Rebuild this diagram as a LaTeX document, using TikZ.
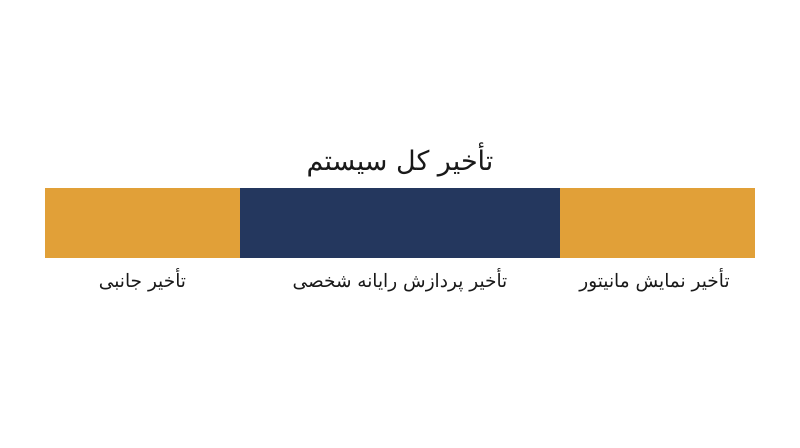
\documentclass[tikz,border=0pt]{standalone}
\usepackage{fontspec}
\usepackage{xcolor}
\usepackage{tikz}
\usetikzlibrary{calc}
\usetikzlibrary{backgrounds}
\TeXXeTstate=1
\newfontfamily\arabicfont[Script=Arabic]{DejaVu Sans}
\definecolor{barorange}{RGB}{225,160,56}
\definecolor{barnavy}{RGB}{36,55,94}
\definecolor{labelgray}{RGB}{25,25,25}

\begin{document}
\begin{tikzpicture}[x=1pt,y=1pt]

		\useasboundingbox (0,0) rectangle (800,-447);
		\tikzstyle{segment} = [rectangle, inner sep=0pt, minimum height=70pt]
		\tikzstyle{seglabel} = [inner sep=0pt, text=labelgray, font=\arabicfont\fontsize{18.5}{21}\selectfont]
		\node [segment, fill=barorange, minimum width=195pt](lat) at (142.5,-223) {};
		\node [segment, fill=barnavy, minimum width=320pt](pc) at (400,-223) {};
		\node [segment, fill=barorange, minimum width=195pt](mon) at (657.5,-223) {};
		\node [seglabel, font=\arabicfont\fontsize{27}{30}\selectfont](total) at ($(pc.north) + (0,28)$) {\beginR تأخیر کل سیستم\endR};
		\node [seglabel](latlbl) at ($(lat.south) + (0,-22)$) {\beginR تأخیر جانبی\endR};
		\node [seglabel](pclbl) at ($(pc.south) + (0,-22)$) {\beginR تأخیر پردازش رایانه شخصی\endR};
		\node [seglabel](monlbl) at ($(mon.south) + (-3,-22)$) {\beginR تأخیر نمایش مانیتور\endR};

	\end{tikzpicture}
\end{document}
